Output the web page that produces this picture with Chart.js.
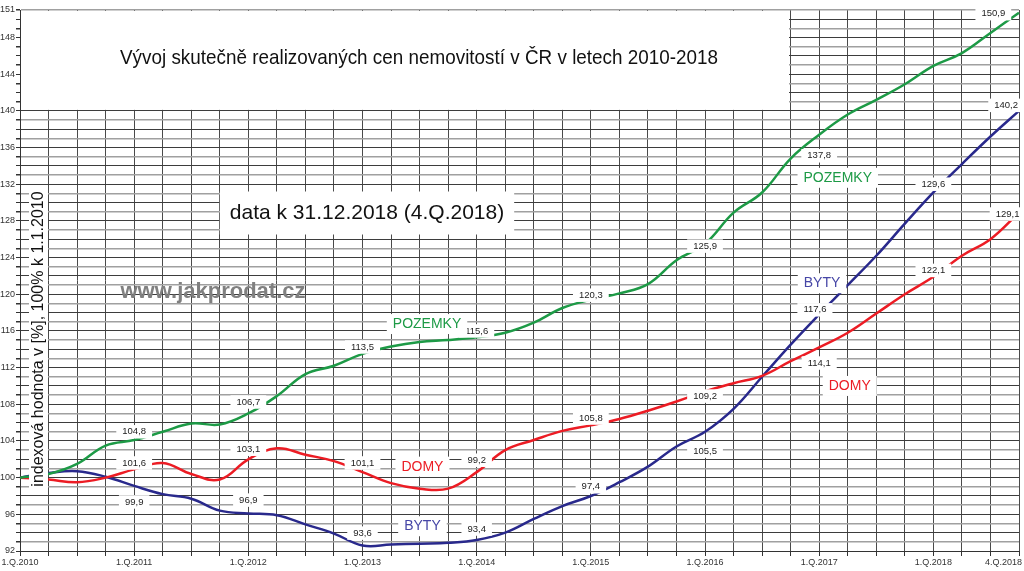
<!DOCTYPE html>
<html>
<head>
<meta charset="utf-8">
<script src="https://cdn.jsdelivr.net/npm/chart.js@4.4.0/dist/chart.umd.min.js"></script>
<style>
  html, body { margin: 0; padding: 0; background: #fff; }
  #wrap { width: 1024px; height: 571px; }
</style>
</head>
<body>
<div id="wrap"><canvas id="chart"></canvas></div>
<script>
// quarters 1.Q.2010 .. 4.Q.2018
const quarters = [
    '1.Q.2010', '2.Q.2010', '3.Q.2010', '4.Q.2010',
    '1.Q.2011', '2.Q.2011', '3.Q.2011', '4.Q.2011',
    '1.Q.2012', '2.Q.2012', '3.Q.2012', '4.Q.2012',
    '1.Q.2013', '2.Q.2013', '3.Q.2013', '4.Q.2013',
    '1.Q.2014', '2.Q.2014', '3.Q.2014', '4.Q.2014',
    '1.Q.2015', '2.Q.2015', '3.Q.2015', '4.Q.2015',
    '1.Q.2016', '2.Q.2016', '3.Q.2016', '4.Q.2016',
    '1.Q.2017', '2.Q.2017', '3.Q.2017', '4.Q.2017',
    '1.Q.2018', '2.Q.2018', '3.Q.2018', '4.Q.2018'
];

// index values, 100% = 1.1.2010
const pozemky = [100, 100.4, 101.5, 103.5, 104.1, 105, 105.9, 105.8, 107, 108.9, 111.3, 112.2,
    113.5, 114.3, 114.8, 115, 115.3, 115.8, 116.9, 118.5, 119.4, 120.1, 121.1, 123.7,
    125.5, 128.9, 131.1, 134.8, 137.4, 139.6, 141.2, 142.9, 144.9, 146.3, 148.5, 150.7];
const domy = [100, 99.8, 99.5, 100, 100.9, 101.6, 100.4, 99.8, 102, 103.2, 102.5, 101.8,
    100.6, 99.4, 98.8, 98.8, 100.6, 103, 104.1, 105.1, 105.7, 106.4, 107.3, 108.3,
    109.4, 110.3, 111.1, 112.7, 114.2, 115.8, 117.9, 120, 121.9, 124.2, 126, 128.9];
const byty = [100, 100.5, 100.7, 100.1, 99.1, 98.2, 97.7, 96.4, 96.1, 95.9, 94.9, 93.9,
    92.6, 92.7, 92.8, 92.9, 93.2, 94, 95.5, 96.9, 98, 99.5, 101.2, 103.4,
    105, 107.5, 111, 114.5, 117.8, 121, 124.2, 127.7, 131.1, 134.2, 137.2, 140];

// value notes written along the lines
const pozemkyNotes = ['104,8', '106,7', '113,5', '115,6', '120,3', '125,9', '137,8', '150,9'];
const domyNotes = ['101,6', '103,1', '101,1', '99,2', '105,8', '109,2', '114,1', '122,1', '129,1'];
const bytyNotes = ['99,9', '96,9', '93,6', '93,4', '97,4', '105,5', '117,6', '129,6', '140,2'];

// y tick labels
const yMin = 92, yMax = 151;
const yLabelled = [92, 96, 100, 104, 108, 112, 116, 120, 124, 128, 132, 136, 140, 144, 148, 151];

// ---- layout only: where notes sit, as [quarter index, axis value] ----
const pozemkyNoteAt = [[4, 105], [8, 108.25], [12, 114.25], [16, 116], [20, 119.9], [24, 125.25], [28, 135.1], [34.1, 150.6]];
const domyNoteAt = [[4, 101.6], [8, 103.1], [12, 101.6], [16, 101.9], [20, 106.5], [24, 108.9], [28, 112.5], [32, 122.6], [34.6, 128.75]];
const bytyNoteAt = [[4, 97.35], [8, 97.55], [12, 93.95], [16, 94.4], [20, 99], [24, 102.9], [27.85, 118.3], [32, 132], [34.55, 140.6]];
const nameAt = {
    POZEMKY: [[14.26, 116.75], [28.65, 132.7]],
    DOMY: [[14.1, 101.2], [29.07, 110]],
    BYTY: [[14.1, 94.7], [28.1, 121.2]]
};

const GREEN = '#1d9a46';
const RED = '#ec1c24';
const BLUE = '#29298c';
const FONT = "'Liberation Sans', Arial, sans-serif";

Chart.defaults.font.family = FONT;

function boxText(ctx, text, cx, cy, size, color, padX, padY, bold) {
    ctx.font = (bold ? 'bold ' : '') + size + 'px ' + FONT;
    const w = ctx.measureText(text).width;
    ctx.fillStyle = '#fff';
    ctx.fillRect(cx - w / 2 - padX, cy - size / 2 - padY, w + 2 * padX, size + 2 * padY);
    ctx.fillStyle = color;
    ctx.textAlign = 'center';
    ctx.textBaseline = 'middle';
    ctx.fillText(text, cx, cy);
}

const decor = {
    id: 'decor',
    beforeDatasetsDraw(chart) {
        const { ctx, chartArea: a, scales: { x, y } } = chart;
        ctx.save();
        ctx.fillStyle = '#fff';
        // blank title area at the top
        ctx.fillRect(a.left + 1, a.top + 1, 788 - a.left, y.getPixelForValue(140) - a.top - 2);
        ctx.restore();
    },
    afterDatasetsDraw(chart) {
        const { ctx, chartArea: a, scales: { x, y } } = chart;
        ctx.save();

        // title
        ctx.font = '21px ' + FONT;
        ctx.fillStyle = '#111';
        ctx.textAlign = 'center';
        ctx.textBaseline = 'middle';
        ctx.fillText('Vývoj skutečně realizovaných cen nemovitostí v ČR v letech 2010-2018', 419, 58, 598);

        boxText(ctx, 'data k 31.12.2018 (4.Q.2018)', 367, 213, 21, '#111', 10, 11);
        ctx.font = 'bold 22px ' + FONT;
        ctx.fillStyle = '#808080';
        ctx.fillText('www.jakprodat.cz', 213, 292);

        // y axis title inside the plot
        ctx.fillStyle = '#fff';
        ctx.fillRect(29, 186, 19, 306);
        ctx.translate(39, 339);
        ctx.rotate(-Math.PI / 2);
        ctx.font = '16px ' + FONT;
        ctx.fillStyle = '#111';
        ctx.fillText('indexová hodnota v [%], 100% k 1.1.2010', 0, 0, 300);
        ctx.setTransform(1, 0, 0, 1, 0, 0);

        const notes = [[pozemkyNotes, pozemkyNoteAt], [domyNotes, domyNoteAt], [bytyNotes, bytyNoteAt]];
        notes.forEach(([texts, spots]) => {
            texts.forEach((t, i) => {
                const [q, v] = spots[i];
                boxText(ctx, t, x.getPixelForValue(q), y.getPixelForValue(v), 9.5, '#222', 6, 2);
            });
        });

        const nameColor = { POZEMKY: GREEN, DOMY: RED, BYTY: '#4646a6' };
        Object.keys(nameAt).forEach(name => {
            nameAt[name].forEach(([q, v]) => {
                boxText(ctx, name, x.getPixelForValue(q), y.getPixelForValue(v), 14, nameColor[name], 6, 3);
            });
        });

        // last x label, kept inside the canvas
        ctx.font = '9px ' + FONT;
        ctx.fillStyle = '#333';
        ctx.textAlign = 'right';
        ctx.textBaseline = 'middle';
        ctx.fillText(quarters[quarters.length - 1], a.right + 3, a.bottom + 12);

        ctx.restore();
    }
};

function lineSet(label, data, color) {
    return {
        label: label,
        data: data,
        borderColor: color,
        borderWidth: 2.5,
        pointRadius: 0,
        fill: false,
        tension: 0.4
    };
}

new Chart(document.getElementById('chart').getContext('2d'), {
    type: 'line',
    data: {
        labels: quarters,
        datasets: [
            lineSet('POZEMKY', pozemky, GREEN),
            lineSet('DOMY', domy, RED),
            lineSet('BYTY', byty, BLUE)
        ]
    },
    options: {
        responsive: true,
        maintainAspectRatio: false,
        animation: false,
        layout: { padding: { top: 10, right: 5, left: 0, bottom: 0 } },
        plugins: { legend: { display: false }, tooltip: { enabled: false } },
        scales: {
            x: {
                type: 'category',
                offset: false,
                afterFit(s) { s.height = 20; s.paddingLeft = 0; s.paddingRight = 0; },
                border: { color: '#333' },
                grid: { offset: false, color: '#4a4a4a', lineWidth: 1, tickLength: 5, tickColor: '#333' },
                ticks: {
                    autoSkip: false,
                    maxRotation: 0,
                    padding: 1,
                    color: '#333',
                    font: { size: 9 },
                    callback(v, i) {
                        const l = quarters[i];
                        return l.startsWith('1.Q') ? l : '';
                    }
                }
            },
            y: {
                min: yMin,
                max: yMax,
                afterFit(s) { s.width = 20; },
                border: { color: '#333' },
                grid: {
                    color: c => c.index % 2 ? '#a0a0a0' : '#3d3d3d',
                    lineWidth: c => c.index % 2 ? 1.5 : 1,
                    tickLength: 4,
                    tickColor: '#333'
                },
                ticks: {
                    stepSize: 1,
                    autoSkip: false,
                    padding: 1,
                    color: '#333',
                    font: { size: 9 },
                    callback: v => yLabelled.includes(v) ? String(v) : ''
                }
            }
        }
    },
    plugins: [decor]
});
</script>
</body>
</html>
